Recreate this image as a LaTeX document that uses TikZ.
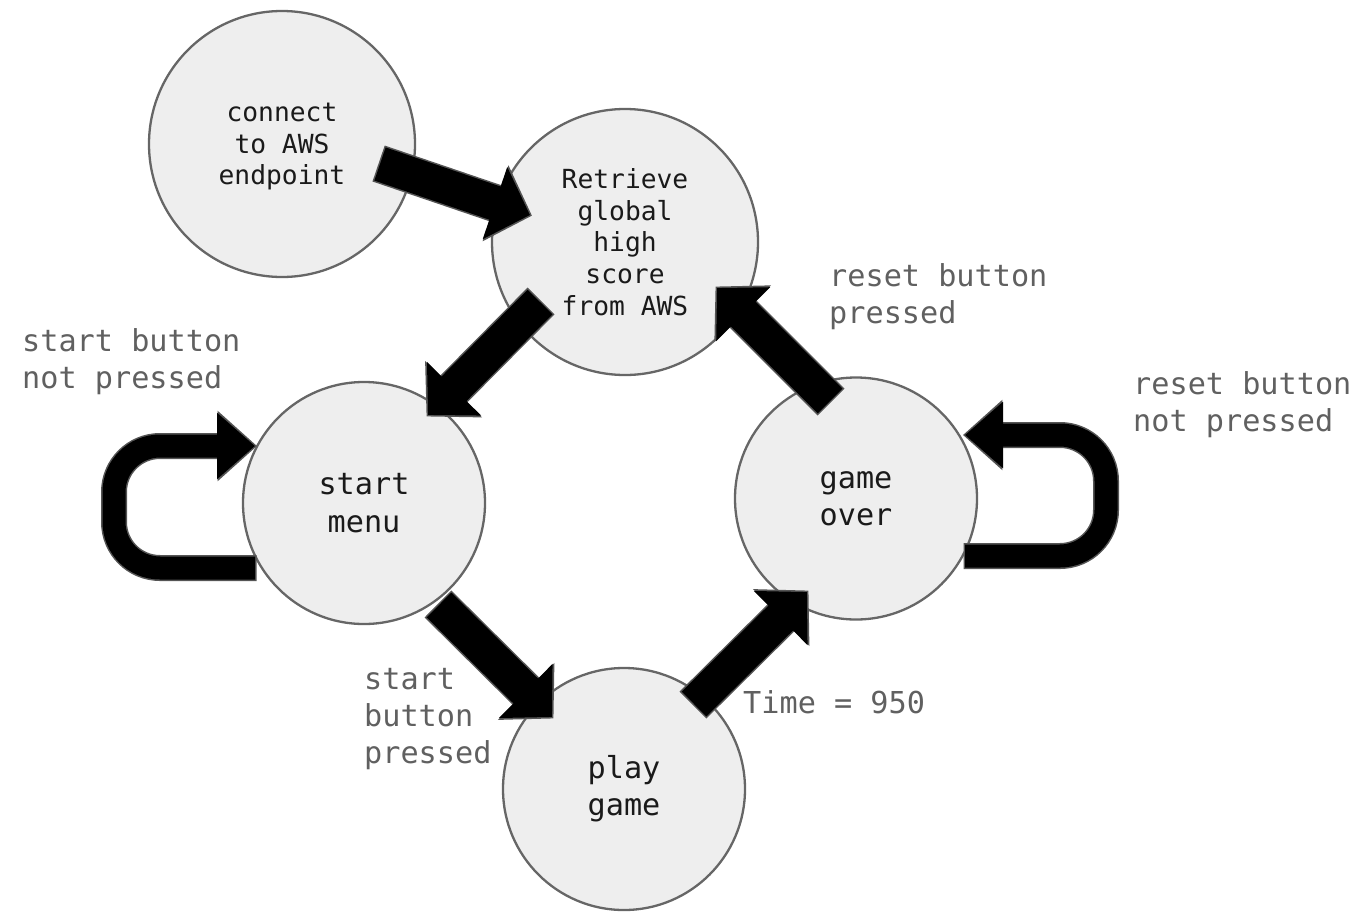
\documentclass[tikz,border=0pt]{standalone}
\usepackage{fontspec}
\newfontfamily\pmono{DejaVu Sans Mono}
\usetikzlibrary{arrows.meta}
\definecolor{circfill}{HTML}{EEEEEE}
\definecolor{circline}{HTML}{666666}
\definecolor{arrline}{HTML}{555555}
\definecolor{labgray}{HTML}{606060}
\definecolor{txtdark}{HTML}{1A1A1A}
\tikzset{
  bigstate/.style={circle, draw=circline, line width=2.3pt, fill=circfill, inner sep=0pt,
    minimum size=266pt, align=center, text=txtdark,
    font=\pmono\fontsize{26.3}{31.7}\selectfont},
  state/.style={circle, draw=circline, line width=2.3pt, fill=circfill, inner sep=0pt,
    minimum size=242pt, align=center, text=txtdark,
    font=\pmono\fontsize{30.2}{37.3}\selectfont},
  lab/.style={inner sep=0pt, align=left, text=labgray, anchor=west,
    font=\pmono\fontsize{30.2}{37}\selectfont},
  blockedge/.style={draw=arrline, line width=38pt, shorten <=-1.5pt, shorten >=-2.1pt,
    -{Triangle[length=38.5pt, width=78pt]}},
  blockarrow/.style={draw=black, line width=35pt,
    -{Triangle[length=37pt, width=74pt]}},
  loopedge/.style={draw=arrline, line width=26pt, rounded corners=46pt,
    shorten <=-1.5pt, shorten >=-2.1pt,
    -{Triangle[length=39.5pt, width=68pt]}},
  looparrow/.style={draw=black, line width=23pt, rounded corners=46pt,
    -{Triangle[length=38pt, width=64pt]}}
}
\begin{document}
\begin{tikzpicture}[x=1pt, y=-1pt]
\useasboundingbox (0,0) rectangle (1357,916);
% states
\node[bigstate] (conn) at (282,144) {\rule{0pt}{24pt}connect\\to AWS\\endpoint};
\node[bigstate] (ret) at (625,242) {Retrieve\\global\\high\\score\\from AWS};
\node[state] (menu) at (364,503) {start\\menu};
\node[state] (over) at (856,498.5) {game\\over};
\node[state] (play) at (624,789) {play\\game};
% arrow end points
\coordinate (a1s) at (380,164);
\coordinate (a1e) at (530,215);
\coordinate (a2s) at (540,302);
\coordinate (a2e) at (428,415);
\coordinate (a3s) at (439,605);
\coordinate (a3e) at (552,717);
\coordinate (a4s) at (694,704);
\coordinate (a4e) at (807,592);
\coordinate (a5s) at (830,401);
\coordinate (a5e) at (717,288);
\coordinate (l1s) at (255,568);
\coordinate (l1a) at (114,568);
\coordinate (l1b) at (114,446);
\coordinate (l1e) at (255,446);
\coordinate (l2s) at (965,556);
\coordinate (l2a) at (1106,556);
\coordinate (l2b) at (1106,435);
\coordinate (l2e) at (965,435);
% connector outlines
\draw[blockedge] (a1s) -- (a1e);
\draw[blockedge] (a2s) -- (a2e);
\draw[blockedge] (a3s) -- (a3e);
\draw[blockedge] (a4s) -- (a4e);
\draw[blockedge] (a5s) -- (a5e);
\draw[loopedge] (l1s) -- (l1a) -- (l1b) -- (l1e);
\draw[loopedge] (l2s) -- (l2a) -- (l2b) -- (l2e);
% connectors
\draw[blockarrow] (a1s) -- (a1e);
\draw[blockarrow] (a2s) -- (a2e);
\draw[blockarrow] (a3s) -- (a3e);
\draw[blockarrow] (a4s) -- (a4e);
\draw[blockarrow] (a5s) -- (a5e);
\draw[looparrow] (l1s) -- (l1a) -- (l1b) -- (l1e);
\draw[looparrow] (l2s) -- (l2a) -- (l2b) -- (l2e);
% labels
\node[lab] (lbstartnot) at (22,362) {start button\\not pressed};
\node[lab] (lbresetp) at (829,296.5) {reset button\\pressed};
\node[lab] (lbresetnot) at (1133,405) {reset button\\not pressed};
\node[lab] (lbstartp) at (364,719.5) {start\\button\\pressed};
\node[lab] (lbtime) at (743,702) {Time = 950};
\end{tikzpicture}
\end{document}
